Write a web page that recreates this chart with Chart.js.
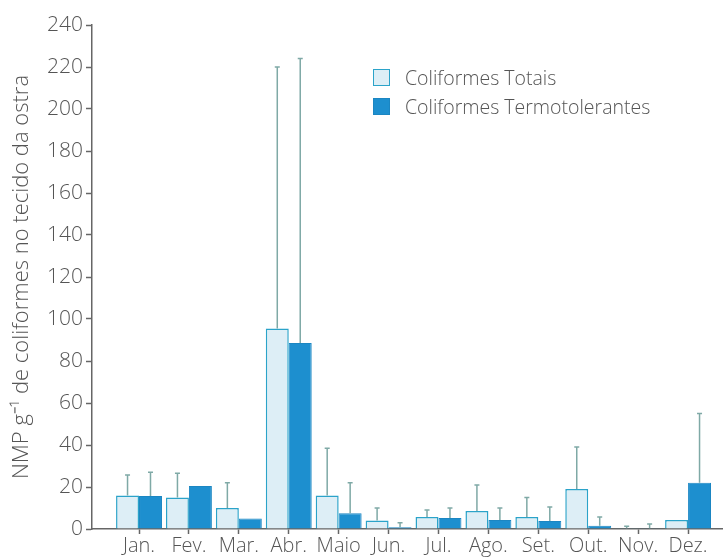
<!DOCTYPE html>
<html>
<head>
<meta charset="utf-8">
<script src="https://cdn.jsdelivr.net/npm/chart.js@4.4.1/dist/chart.umd.min.js"></script>
<style>
    body { margin: 0; background: #fff; }
    #wrap { position: relative; width: 724px; height: 560px; }
    #legend { position: absolute; left: 373px; top: 63px; font-family: "Open Sans", sans-serif; font-weight: 300; font-size: 19.5px; color: #555; }
    .item { display: flex; align-items: center; height: 29px; }
    .box { width: 17px; height: 17px; box-sizing: border-box; margin-right: 15px; }
</style>
</head>
<body>
<div id="wrap">
    <canvas id="chart" width="724" height="560"></canvas>
    <div id="legend"></div>
</div>
<script>
var months = ["Jan.", "Fev.", "Mar.", "Abr.", "Maio", "Jun.", "Jul.", "Ago.", "Set.", "Out.", "Nov.", "Dez."];

var totais = [16, 15, 10, 95.5, 16, 4, 5.7, 8.6, 5.7, 19, 0.3, 4.3];
var totaisErro = [25.7, 26.5, 22, 220, 38.5, 10, 9, 21, 15, 39, 1.3, null];

var termo = [15.7, 20.5, 5, 88.6, 7.5, 0.8, 5.2, 4.3, 3.8, 1.5, 0.3, 22];
var termoErro = [27, null, null, 224, 22, 3, 10, 10, 10.5, 5.7, 2.4, 55];

var yTicks = [0, 20, 40, 60, 80, 100, 120, 140, 160, 180, 200, 220, 240];

var textColor = "#555";
var axisColor = "#666";
var lightFill = "#ddeef6";
var lightBorder = "#2ba3c9";
var darkFill = "#1d8fcf";
var errColor = "#7fa9a6";

function toPoints(values) {
    return values.map((v, i) => ({ x: i + 1, y: v }));
}

// error bars drawn from the top of each bar up to the value in the matching array
const errorBars = {
    id: "errorBars",
    afterDatasetsDraw(chart) {
        var ctx = chart.ctx;
        var yScale = chart.scales.y;
        var errors = [totaisErro, termoErro];
        ctx.save();
        ctx.strokeStyle = errColor;
        ctx.lineWidth = 1.5;
        errors.forEach((errs, di) => {
            var meta = chart.getDatasetMeta(di);
            meta.data.forEach((bar, j) => {
                if (errs[j] == null) return;
                var top = yScale.getPixelForValue(errs[j]);
                ctx.beginPath();
                ctx.moveTo(bar.x, bar.y);
                ctx.lineTo(bar.x, top);
                ctx.moveTo(bar.x - 2.5, top);
                ctx.lineTo(bar.x + 2.5, top);
                ctx.stroke();
            });
        });
        ctx.restore();
    }
};

const chartElement = document.getElementById("chart");

const chart = new Chart(chartElement, {
    type: "bar",
    data: {
        datasets: [{
            label: "Coliformes Totais",
            data: toPoints(totais),
            backgroundColor: lightFill,
            borderColor: lightBorder,
            borderWidth: 1.5
        }, {
            label: "Coliformes Termotolerantes",
            data: toPoints(termo),
            backgroundColor: darkFill,
            borderColor: "#1b86c2",
            borderWidth: 1
        }]
    },
    options: {
        responsive: false,
        animation: false,
        categoryPercentage: 0.92,
        barPercentage: 1,
        layout: {
            padding: { top: 25, right: 2, left: 0, bottom: 0 }
        },
        scales: {
            x: {
                type: "linear",
                offset: false,
                min: 0.058,
                max: 12.68,
                grid: {
                    display: true,
                    offset: false,
                    drawOnChartArea: false,
                    drawTicks: true,
                    tickLength: 5,
                    tickColor: axisColor,
                    tickWidth: 1.5
                },
                border: { color: axisColor, width: 1.5 },
                afterBuildTicks: (scale) => {
                    scale.ticks = months.map((m, i) => ({ value: i + 1 }));
                },
                afterFit: (scale) => { scale.height = 31; },
                ticks: {
                    autoSkip: false,
                    maxRotation: 0,
                    padding: 0,
                    color: textColor,
                    font: { family: "Open Sans", weight: 300, size: 20 },
                    callback: (value) => months[Math.round(value) - 1] || ""
                }
            },
            y: {
                min: 0,
                max: 240,
                grid: {
                    display: true,
                    drawOnChartArea: false,
                    drawTicks: true,
                    tickLength: 6,
                    tickColor: axisColor,
                    tickWidth: 1.5
                },
                border: { color: axisColor, width: 1.5 },
                afterBuildTicks: (scale) => {
                    scale.ticks = yTicks.map((v) => ({ value: v }));
                },
                afterFit: (scale) => { scale.width = 92; },
                ticks: {
                    padding: 3,
                    color: textColor,
                    font: { family: "Open Sans", weight: 300, size: 21 }
                },
                title: {
                    display: true,
                    text: "NMP g\u207B\u00B9 de coliformes no tecido da ostra",
                    color: textColor,
                    padding: { top: 9, bottom: 0 },
                    font: { family: "Open Sans", weight: 300, size: 22 }
                }
            }
        },
        plugins: {
            legend: { display: false },
            tooltip: { enabled: false }
        }
    },
    plugins: [errorBars]
});

// legend as plain html
var legend = document.getElementById("legend");
chart.data.datasets.forEach((ds) => {
    var item = document.createElement("div");
    item.className = "item";
    var box = document.createElement("span");
    box.className = "box";
    box.style.background = ds.backgroundColor;
    box.style.border = "1.5px solid " + ds.borderColor;
    var label = document.createElement("span");
    label.textContent = ds.label;
    item.appendChild(box);
    item.appendChild(label);
    legend.appendChild(item);
});
</script>
</body>
</html>
